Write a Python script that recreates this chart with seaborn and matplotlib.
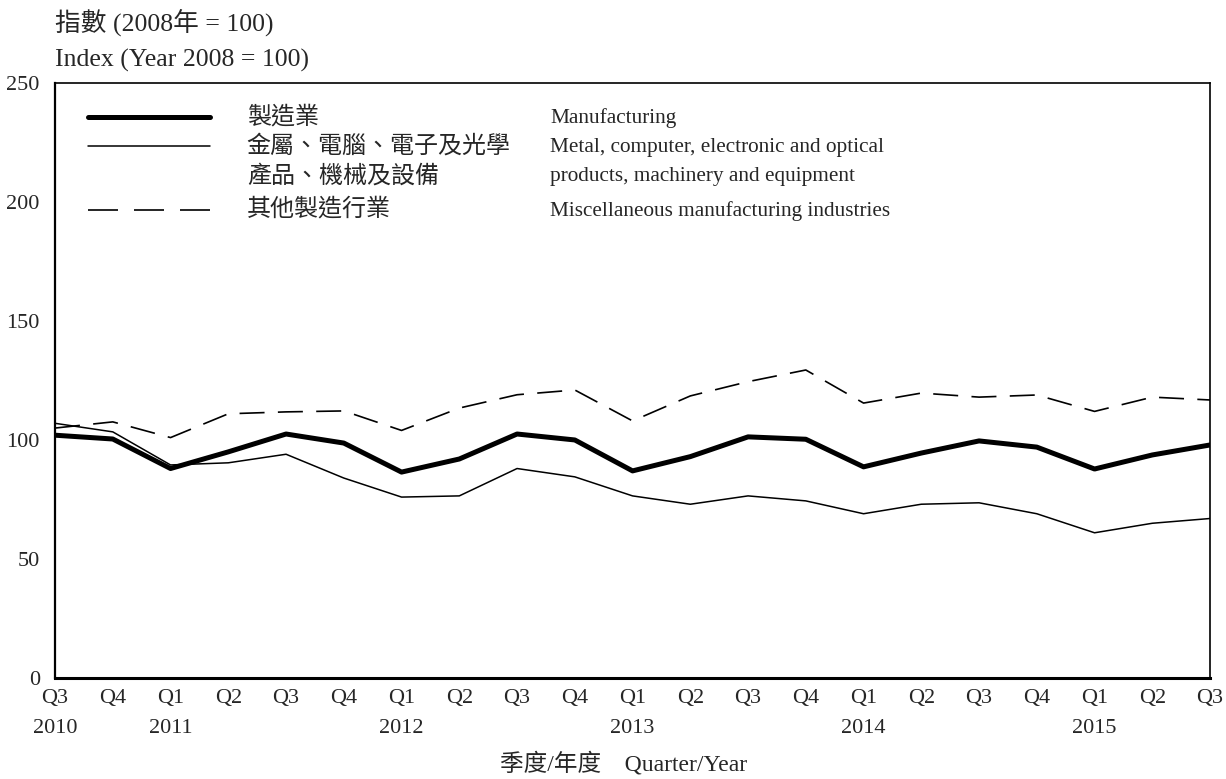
import numpy as np
import pandas as pd
import matplotlib
matplotlib.use("Agg")
import matplotlib.pyplot as plt
from matplotlib.lines import Line2D
import seaborn as sns

# ================= DATA =================
quarters = ["Q3", "Q4", "Q1", "Q2", "Q3", "Q4", "Q1", "Q2", "Q3", "Q4", "Q1",
            "Q2", "Q3", "Q4", "Q1", "Q2", "Q3", "Q4", "Q1", "Q2", "Q3"]
years = ["2010", "", "2011", "", "", "", "2012", "", "", "", "2013",
         "", "", "", "2014", "", "", "", "2015", "", ""]

manufacturing = [102.0, 100.4, 88.0, 95.0, 102.5, 98.7, 86.5, 92.0, 102.5, 100.0, 87.0,
                 93.0, 101.3, 100.3, 88.7, 94.5, 99.6, 97.0, 87.8, 93.7, 97.9]
metal = [107.0, 103.4, 89.5, 90.4, 94.0, 84.0, 76.0, 76.5, 88.0, 84.5, 76.5,
         73.0, 76.5, 74.4, 69.0, 73.0, 73.6, 69.0, 61.0, 65.0, 67.0]
misc = [105.0, 107.6, 101.0, 111.0, 111.8, 112.2, 104.0, 113.4, 119.0, 121.0, 108.0,
        118.5, 124.5, 129.4, 115.5, 119.7, 118.0, 118.9, 112.0, 118.0, 116.8]

labels_zh = ["製造業", "金屬、電腦、電子及光學\n產品、機械及設備", "其他製造行業"]
labels_en = ["Manufacturing", "Metal, computer, electronic and optical\nproducts, machinery and equipment",
             "Miscellaneous manufacturing industries"]

df = pd.DataFrame({
    "pos": np.arange(len(quarters)),
    "manufacturing": manufacturing,
    "metal": metal,
    "misc": misc,
})

# ================= STYLE =================
sns.set_style("white")
plt.rcParams["font.family"] = ["Liberation Serif", "Noto Sans CJK TC"]
plt.rcParams["font.size"] = 15

fig = plt.figure(figsize=(12.26, 7.79), dpi=100)
ax = fig.add_axes([0.0449, 0.1297, 0.9421, 0.7638])

styles = {
    "manufacturing": dict(linewidth=3.6, linestyle="-"),
    "metal": dict(linewidth=1.1, linestyle="-"),
    "misc": dict(linewidth=1.2, linestyle=(0, (15, 8))),
}
for col in ["metal", "misc", "manufacturing"]:
    sns.lineplot(data=df, x="pos", y=col, ax=ax, color="black", **styles[col])

ax.set_xlim(0, len(quarters) - 1)
ax.set_ylim(0, 250)
ax.set_yticks(range(0, 251, 50))
ax.set_xticks(df["pos"])
ax.set_xticklabels([q + "\n" + y for q, y in zip(quarters, years)], linespacing=1.75)
ax.set_xlabel("")
ax.set_ylabel("")
ax.tick_params(axis="x", direction="in", length=8, width=1, pad=8, labelsize=16)
ax.tick_params(axis="y", direction="in", length=7, width=1, pad=11, labelsize=16)
for side, sp in ax.spines.items():
    sp.set_visible(True)
    sp.set_color("black")
    sp.set_linewidth(1.2)
ax.spines["bottom"].set_linewidth(2.2)
ax.spines["left"].set_linewidth(1.6)

# ================= LEGEND (manual) =================
legend_y = [0.943, 0.894, 0.7866]
legend_styles = dict(styles)
legend_styles["misc"] = dict(linewidth=1.2, linestyle=(0, (18, 9.6)))
for y, col in zip(legend_y, ["manufacturing", "metal", "misc"]):
    ax.add_line(Line2D([0.0286, 0.134], [y, y], transform=ax.transAxes,
                       color="black", **legend_styles[col]))
zh_size = 17.3
en_size = 15.3
ax.text(0.166, 0.943, labels_zh[0], transform=ax.transAxes, fontsize=zh_size, va="center")
ax.text(0.166, 0.894, labels_zh[1].split("\n")[0], transform=ax.transAxes, fontsize=zh_size, va="center")
ax.text(0.166, 0.843, labels_zh[1].split("\n")[1], transform=ax.transAxes, fontsize=zh_size, va="center")
ax.text(0.166, 0.788, labels_zh[2], transform=ax.transAxes, fontsize=zh_size, va="center")
ax.text(0.4286, 0.941, labels_en[0], transform=ax.transAxes, fontsize=en_size, va="center")
ax.text(0.4286, 0.891, labels_en[1].split("\n")[0], transform=ax.transAxes, fontsize=en_size, va="center")
ax.text(0.4286, 0.843, labels_en[1].split("\n")[1], transform=ax.transAxes, fontsize=en_size, va="center")
ax.text(0.4286, 0.785, labels_en[2], transform=ax.transAxes, fontsize=en_size, va="center")

# ================= TITLES =================
fig.text(0.0449, 1 - 22 / 779, "指數 (2008年 = 100)", fontsize=18.5, va="center", ha="left")
fig.text(0.0449, 1 - 60 / 779, "Index (Year 2008 = 100)", fontsize=18.5, va="center", ha="left")
fig.text(624 / 1226, 1 - 764 / 779, "季度/年度    Quarter/Year", fontsize=17, va="center", ha="center")

fig.savefig("out.png", dpi=100)
